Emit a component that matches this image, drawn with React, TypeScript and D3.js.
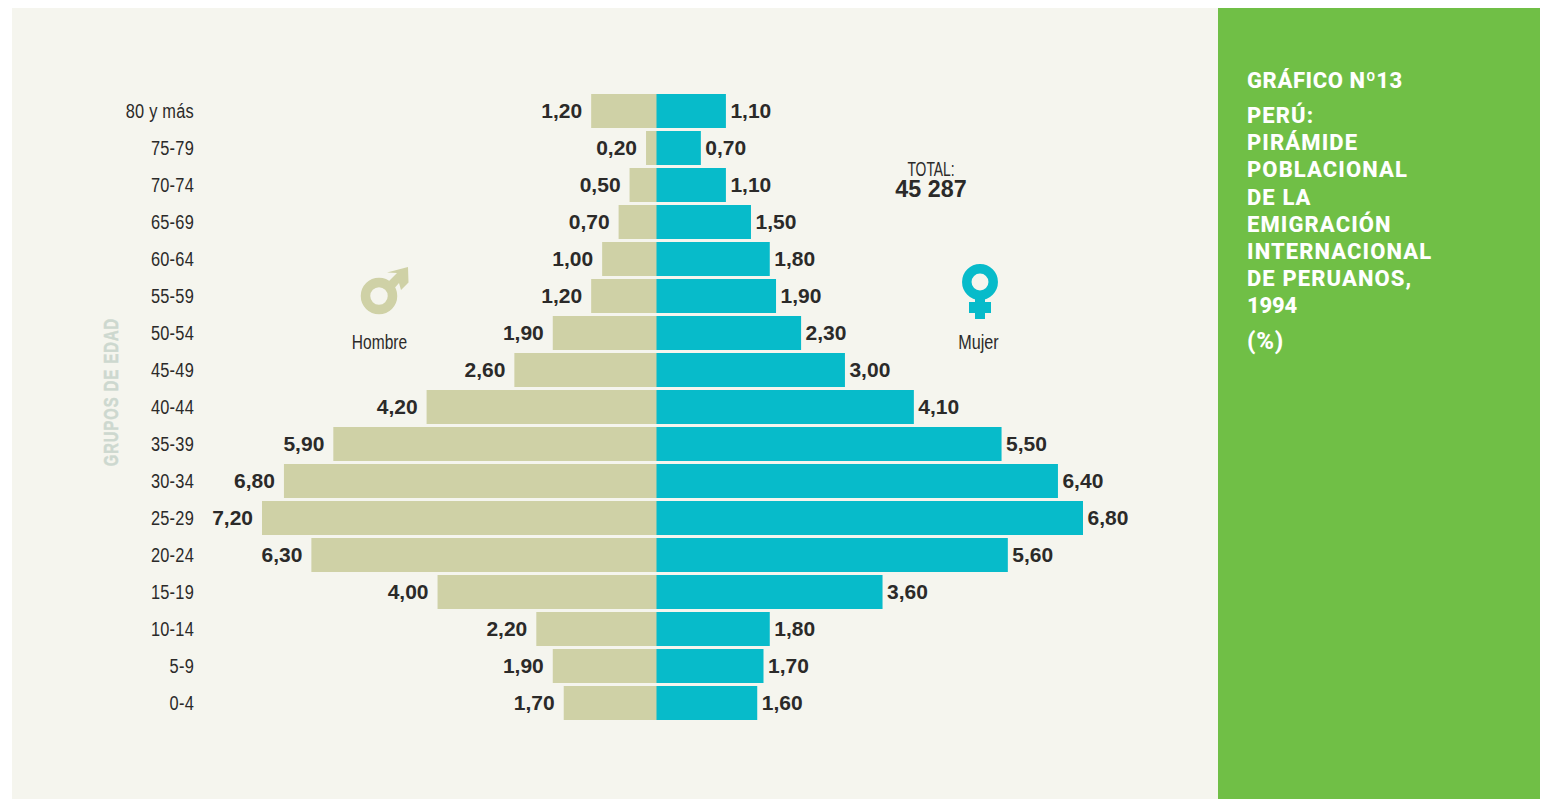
import * as d3 from 'd3';

const ageGroups = ['80 y más', '75-79', '70-74', '65-69', '60-64', '55-59', '50-54', '45-49', '40-44', '35-39', '30-34', '25-29', '20-24', '15-19', '10-14', '5-9', '0-4'];
const hombres = [1.2, 0.2, 0.5, 0.7, 1.0, 1.2, 1.9, 2.6, 4.2, 5.9, 6.8, 7.2, 6.3, 4.0, 2.2, 1.9, 1.7];
const mujeres = [1.1, 0.7, 1.1, 1.5, 1.8, 1.9, 2.3, 3.0, 4.1, 5.5, 6.4, 6.8, 5.6, 3.6, 1.8, 1.7, 1.6];
const titleLines = ['PERÚ:', 'PIRÁMIDE', 'POBLACIONAL', 'DE LA', 'EMIGRACIÓN', 'INTERNACIONAL', 'DE PERUANOS,'];

const arial = '"Liberation Sans", Arial, sans-serif';
const heading = 'Roboto, "Noto Sans", sans-serif';
const dark = '#2b2a29';
const khaki = '#cfd1a6';
const teal = '#07bbca';

const fmt = d3.formatLocale({ decimal: ',', thousands: ' ', grouping: [3], currency: ['', ''] }).format('.2f');

const centre = 657;
// the source draws each side on its own scale
const xMen = d3.scaleLinear().domain([0, 7.2]).range([centre, 262]);
const xWomen = d3.scaleLinear().domain([0, 6.8]).range([centre, 1083]);
const y = d3.scaleBand().domain(ageGroups).range([94, 720]).paddingInner(3 / 37);

// no condensed face is installed, so squeeze Liberation Sans sideways
function Narrow({ x, y, sx = 0.78, size = 21, spacing = 0, anchor = 'end', children }: any) {
  return (
    <text
      transform={`translate(${x},${y}) scale(${sx},1)`}
      textAnchor={anchor}
      fontFamily={arial}
      fontSize={size}
      letterSpacing={spacing}
      fill={dark}
    >
      {children}
    </text>
  );
}

export default function App() {
  return (
    <svg
      width={1542}
      height={799}
      viewBox="0 0 1542 799"
      style={{ position: 'absolute', left: 0, top: 0, display: 'block' }}
    >
      <rect x={0} y={0} width={1542} height={799} fill="#fff" />
      <rect x={12} y={8} width={1206} height={791} fill="#f5f5ee" />
      <rect x={1218} y={8} width={322} height={791} fill="#70bf46" />

      {ageGroups.map((g, i) => {
        const cy = y(g)! + y.bandwidth() / 2;
        return (
          <g key={g}>
            <Narrow x={194} y={cy + 6.5} spacing={0.3}>{g}</Narrow>
            <rect x={xMen(hombres[i])} y={y(g)} width={centre - xMen(hombres[i])} height={y.bandwidth()} fill={khaki} />
            <rect x={centre - 0.5} y={y(g)} width={xWomen(mujeres[i]) - centre + 0.5} height={y.bandwidth()} fill={teal} />
            <text x={xMen(hombres[i]) - 9} y={cy + 6.5} textAnchor="end" fontFamily={arial} fontWeight={700} fontSize={21} fill={dark}>{fmt(hombres[i])}</text>
            <text x={xWomen(mujeres[i]) + 4.5} y={cy + 6.5} fontFamily={arial} fontWeight={700} fontSize={21} fill={dark}>{fmt(mujeres[i])}</text>
          </g>
        );
      })}

      <text
        transform="translate(118,392) rotate(-90) scale(0.7,1)"
        textAnchor="middle"
        fontFamily={arial}
        fontWeight={700}
        fontSize={21}
        letterSpacing={1.5}
        stroke="#cdd8cf"
        strokeWidth={0.5}
        fill="#cdd8cf"
      >GRUPOS DE EDAD</text>

      <Narrow x={931} y={176} sx={0.66} anchor="middle">TOTAL:</Narrow>
      <text x={931} y={197} textAnchor="middle" fontFamily={arial} fontWeight={700} fontSize={23.3} fill={dark}>45 287</text>

      {/* male symbol */}
      <circle cx={379} cy={296} r={13.5} fill="none" stroke={khaki} strokeWidth={9.5} />
      <path d="M386,284 L397,273 L387,272.5 L408,267 L408.5,282.5 L401,290 L399,283 L392,291 Z" fill={khaki} />
      <Narrow x={379.5} y={349} sx={0.74} anchor="middle">Hombre</Narrow>

      {/* female symbol */}
      <circle cx={980} cy={282} r={13.2} fill="none" stroke={teal} strokeWidth={9.5} />
      <path d="M975,293 H985 V302 H991 V313 H985 V319 H975 V313 H969 V302 H975 Z" fill={teal} />
      <Narrow x={978.5} y={349} sx={0.77} anchor="middle">Mujer</Narrow>

      <g fontFamily={heading} fontWeight={800} fontSize={22} letterSpacing={1.1} fill="#fff">
        <text x={1247} y={88} letterSpacing={0.6}>GRÁFICO Nº13</text>
        {titleLines.map((line, i) => (
          <text key={line} x={1247} y={123 + i * 27.2}>{line}</text>
        ))}
        <text x={1247} y={313.4} letterSpacing={-0.2}>1994</text>
        <text x={1247} y={349} fontSize={24} letterSpacing={0.8}>(%)</text>
      </g>
    </svg>
  );
}
